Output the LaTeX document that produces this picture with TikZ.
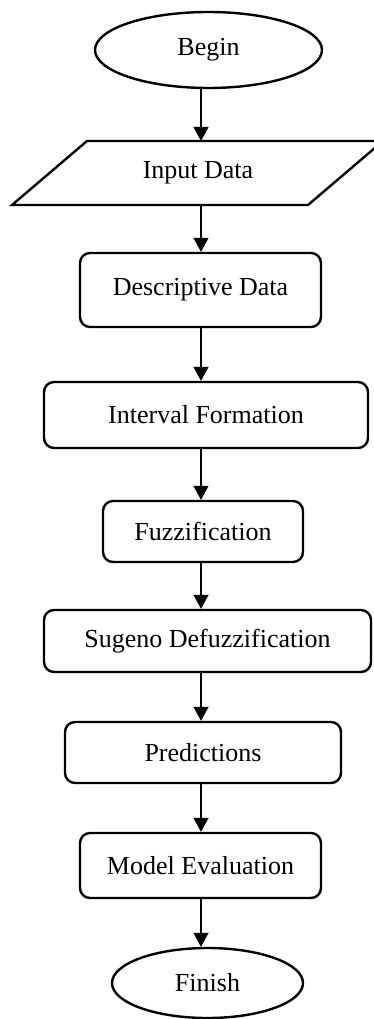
\documentclass[tikz,border=0pt]{standalone}
\usepackage{fontspec}
\setmainfont{Liberation Serif}
\usetikzlibrary{shapes.geometric,arrows.meta}
\begin{document}
\begin{tikzpicture}[x=1pt,y=-1pt,
  every node/.style={font=\fontsize{26}{30}\selectfont, inner sep=0pt},
  procbox/.style={draw, line width=2.4pt, rounded corners=10pt, rectangle},
  termbox/.style={draw, line width=2.4pt, ellipse},
  arr/.style={line width=1.2pt, -{Triangle[width=15pt,length=14pt]}}]
\useasboundingbox (0,0) rectangle (374,1019);
\coordinate (ax) at (201,0);
\node[termbox, minimum width=227pt, minimum height=76pt] (begin) at (208.5,50) {Begin};
\draw[line width=2.4pt, line join=miter] (87,141) -- (383,141) -- (308,205) -- (12,205) -- cycle;
\node (inp) at (198,173) {Input Data};
\coordinate (inptop) at (201,141);
\coordinate (inpbot) at (201,205);
\node[procbox, minimum width=241pt, minimum height=74pt] (desc) at (200.5,290) {Descriptive Data};
\node[procbox, minimum width=324pt, minimum height=66pt] (intv) at (206,415) {Interval Formation};
\node[procbox, minimum width=200pt, minimum height=61pt] (fuzz) at (203,531.5) {Fuzzification};
\node[procbox, minimum width=327pt, minimum height=62pt] (sug) at (207.5,641) {Sugeno Defuzzification};
\node[procbox, minimum width=276pt, minimum height=61pt] (pred) at (203,752.5) {Predictions};
\node[procbox, minimum width=241pt, minimum height=65pt] (model) at (200.5,865.5) {Model Evaluation};
\node[termbox, minimum width=191pt, minimum height=70pt] (fin) at (207.5,983) {Finish};
\draw[arr] (begin.south -| ax) -- (inptop);
\draw[arr] (inpbot) -- (desc.north -| ax);
\draw[arr] (desc.south -| ax) -- (intv.north -| ax);
\draw[arr] (intv.south -| ax) -- (fuzz.north -| ax);
\draw[arr] (fuzz.south -| ax) -- (sug.north -| ax);
\draw[arr] (sug.south -| ax) -- (pred.north -| ax);
\draw[arr] (pred.south -| ax) -- (model.north -| ax);
\draw[arr] (model.south -| ax) -- (fin.north -| ax);
\end{tikzpicture}
\end{document}
